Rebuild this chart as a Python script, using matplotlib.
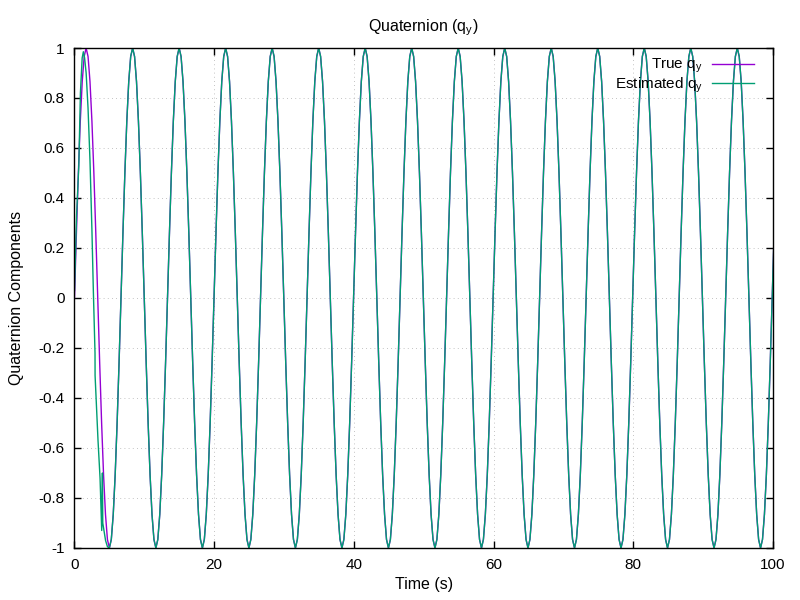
import numpy as np
import matplotlib
matplotlib.use('Agg')
import matplotlib.pyplot as plt
from matplotlib.ticker import MultipleLocator, FuncFormatter

plt.rcParams['font.family'] = ['Liberation Sans', 'DejaVu Sans']
plt.rcParams['mathtext.default'] = 'regular'
plt.rcParams['axes.unicode_minus'] = False

# true q_y, sampled every 0.2775 s (one row = one period of ~6.66 s)
sample_dt = 0.2775
true_qy = [
    0, 0.259, 0.5, 0.707, 0.866, 0.966, 1, 0.966, 0.866, 0.707, 0.5, 0.259, 0, -0.259, -0.5, -0.707, -0.866, -0.966, -1, -0.966, -0.866, -0.707, -0.5, -0.259,
    0, 0.259, 0.5, 0.707, 0.866, 0.966, 1, 0.966, 0.866, 0.707, 0.5, 0.259, 0, -0.259, -0.5, -0.707, -0.866, -0.966, -1, -0.966, -0.866, -0.707, -0.5, -0.259,
    0, 0.259, 0.5, 0.707, 0.866, 0.966, 1, 0.966, 0.866, 0.707, 0.5, 0.259, 0, -0.259, -0.5, -0.707, -0.866, -0.966, -1, -0.966, -0.866, -0.707, -0.5, -0.259,
    0, 0.259, 0.5, 0.707, 0.866, 0.966, 1, 0.966, 0.866, 0.707, 0.5, 0.259, 0, -0.259, -0.5, -0.707, -0.866, -0.966, -1, -0.966, -0.866, -0.707, -0.5, -0.259,
    0, 0.259, 0.5, 0.707, 0.866, 0.966, 1, 0.966, 0.866, 0.707, 0.5, 0.259, 0, -0.259, -0.5, -0.707, -0.866, -0.966, -1, -0.966, -0.866, -0.707, -0.5, -0.259,
    0, 0.259, 0.5, 0.707, 0.866, 0.966, 1, 0.966, 0.866, 0.707, 0.5, 0.259, 0, -0.259, -0.5, -0.707, -0.866, -0.966, -1, -0.966, -0.866, -0.707, -0.5, -0.259,
    0, 0.259, 0.5, 0.707, 0.866, 0.966, 1, 0.966, 0.866, 0.707, 0.5, 0.259, 0, -0.259, -0.5, -0.707, -0.866, -0.966, -1, -0.966, -0.866, -0.707, -0.5, -0.259,
    0, 0.259, 0.5, 0.707, 0.866, 0.966, 1, 0.966, 0.866, 0.707, 0.5, 0.259, 0, -0.259, -0.5, -0.707, -0.866, -0.966, -1, -0.966, -0.866, -0.707, -0.5, -0.259,
    0, 0.259, 0.5, 0.707, 0.866, 0.966, 1, 0.966, 0.866, 0.707, 0.5, 0.259, 0, -0.259, -0.5, -0.707, -0.866, -0.966, -1, -0.966, -0.866, -0.707, -0.5, -0.259,
    0, 0.259, 0.5, 0.707, 0.866, 0.966, 1, 0.966, 0.866, 0.707, 0.5, 0.259, 0, -0.259, -0.5, -0.707, -0.866, -0.966, -1, -0.966, -0.866, -0.707, -0.5, -0.259,
    0, 0.259, 0.5, 0.707, 0.866, 0.966, 1, 0.966, 0.866, 0.707, 0.5, 0.259, 0, -0.259, -0.5, -0.707, -0.866, -0.966, -1, -0.966, -0.866, -0.707, -0.5, -0.259,
    0, 0.259, 0.5, 0.707, 0.866, 0.966, 1, 0.966, 0.866, 0.707, 0.5, 0.259, 0, -0.259, -0.5, -0.707, -0.866, -0.966, -1, -0.966, -0.866, -0.707, -0.5, -0.259,
    0, 0.259, 0.5, 0.707, 0.866, 0.966, 1, 0.966, 0.866, 0.707, 0.5, 0.259, 0, -0.259, -0.5, -0.707, -0.866, -0.966, -1, -0.966, -0.866, -0.707, -0.5, -0.259,
    0, 0.259, 0.5, 0.707, 0.866, 0.966, 1, 0.966, 0.866, 0.707, 0.5, 0.259, 0, -0.259, -0.5, -0.707, -0.866, -0.966, -1, -0.966, -0.866, -0.707, -0.5, -0.259,
    0, 0.259, 0.5, 0.707, 0.866, 0.966, 1, 0.966, 0.866, 0.707, 0.5, 0.259, 0, -0.259, -0.5, -0.707, -0.866, -0.966, -1, -0.966, -0.866, -0.707, -0.5, -0.259,
    0, 0.259,
]
t_true = np.arange(len(true_qy)) * sample_dt

# estimated q_y during the convergence transient (first ~5 s)
est_early_t = [0.0, 0.3, 0.62, 0.66, 0.85, 1.1, 1.27, 1.45, 1.67, 1.94, 2.22, 2.5,
               2.7, 2.94, 2.95, 3.37, 3.66, 3.9, 4.0, 4.05, 4.45, 4.72]
est_early_v = [0.03, 0.33, 0.53, 0.58, 0.82, 0.96, 0.985, 0.96, 0.9, 0.76, 0.55, 0.27,
               0.03, -0.22, -0.31, -0.57, -0.72, -0.93, -0.70, -0.90, -0.97, -0.995]
# after that the estimate tracks the true value
join_idx = 18
t_est = np.concatenate([est_early_t, t_true[join_idx:]])
est_qy = np.concatenate([est_early_v, true_qy[join_idx:]])

fs = 11

fig = plt.figure(figsize=(8, 6), dpi=100)
ax = fig.add_axes([0.0931, 0.0867, 0.873, 0.8333])

ax.plot(t_true, true_qy, color='#9400D3', lw=1.0, label='True q$_y$')
ax.plot(t_est, est_qy, color='#009E73', lw=1.0, label='Estimated q$_y$')

ax.set_xlim(0, 100)
ax.set_ylim(-1, 1)
ax.xaxis.set_major_locator(MultipleLocator(20))
ax.yaxis.set_major_locator(MultipleLocator(0.2))
ax.yaxis.set_major_formatter(FuncFormatter(lambda v, p: f'{round(v, 1):g}'))
ax.tick_params(direction='in', length=5, width=1, top=True, right=True,
               labelsize=fs, pad=7)
ax.grid(True, color='#b0b0b0', lw=0.6, linestyle=(0, (1, 4)))
for s in ax.spines.values():
    s.set_linewidth(1.0)

ax.text(0.5, 1.033, 'Quaternion (q$_y$)', transform=ax.transAxes,
        ha='center', va='baseline', fontsize=fs + 0.5)
ax.set_xlabel('Time (s)', fontsize=fs + 0.5)
ax.set_ylabel('Quaternion Components', fontsize=fs + 0.5)
ax.xaxis.set_label_coords(0.5, -0.058)
ax.yaxis.set_label_coords(-0.072, 0.5)

ax.legend(loc='upper right', bbox_to_anchor=(0.9728, 0.982), frameon=False,
          markerfirst=False, fontsize=fs, handlelength=2.75, handletextpad=0.6,
          labelspacing=0.0, borderaxespad=0, borderpad=0)

fig.savefig('out.png', dpi=100)
